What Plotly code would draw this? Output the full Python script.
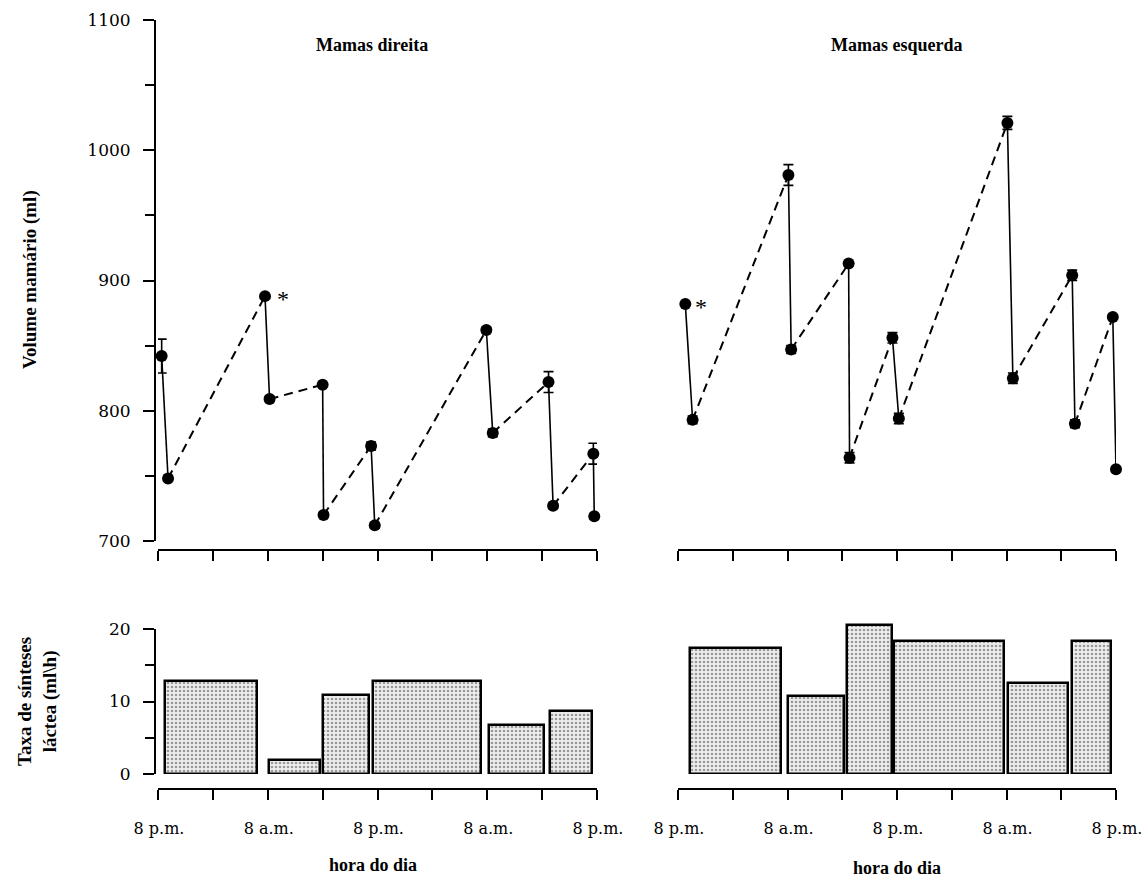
import plotly.graph_objects as go

W, H = 1145, 879

# ---------------- data ----------------
# time in hours from the first 8 p.m.
hours_dir = [0.4, 1.1, 11.7, 12.2, 18.0, 18.1, 23.3, 23.7, 35.9, 36.6, 42.7, 43.2, 47.6, 47.7]
vol_dir = [842, 748, 888, 809, 820, 720, 773, 712, 862, 783, 822, 727, 767, 719]
err_dir = [13, 0, 0, 2, 0, 2, 3, 2, 2, 3, 8, 2, 8, 2]

hours_esq = [0.8, 1.6, 12.1, 12.4, 18.7, 18.8, 23.5, 24.2, 36.1, 36.7, 43.2, 43.5, 47.65, 48.0]
vol_esq = [882, 793, 981, 847, 913, 764, 856, 794, 1021, 825, 904, 790, 872, 755]
err_esq = [0, 3, 8, 3, 0, 4, 4, 4, 5, 4, 4, 3, 2, 0]

bar_start_dir = [0.8, 12.1, 18.0, 23.5, 36.2, 42.9]
bar_end_dir = [10.8, 17.7, 23.1, 35.3, 42.2, 47.4]
rate_dir = [12.8, 2.0, 10.9, 12.8, 6.8, 8.7]

bar_start_esq = [1.3, 12.1, 18.5, 23.7, 36.2, 43.2]
bar_end_esq = [11.3, 18.2, 23.4, 35.7, 42.7, 47.5]
rate_esq = [17.4, 10.8, 20.5, 18.4, 12.6, 18.3]

tick_hours = [0, 6, 12, 18, 24, 30, 36, 42, 48]
label_hours = [0, 12, 24, 36, 48]
label_text = ["8 p.m.", "8 a.m.", "8 p.m.", "8 a.m.", "8 p.m."]
vol_ticks = [700, 800, 900, 1000, 1100]
rate_ticks = [0, 10, 20]

# ---------------- helpers ----------------
def fx(px):
    return px / W

def fy(py):
    return 1 - py / H

fig = go.Figure()

def segments(h, v, start):
    xs, ys = [], []
    for i in range(start, len(h) - 1, 2):
        xs += [h[i], h[i + 1], None]
        ys += [v[i], v[i + 1], None]
    return xs, ys

def add_volume(h, v, e, xa, ya):
    sx, sy = segments(h, v, 0)
    dx, dy = segments(h, v, 1)
    fig.add_trace(go.Scatter(x=sx, y=sy, mode="lines", xaxis=xa, yaxis=ya,
                             line=dict(color="black", width=1.6), showlegend=False,
                             cliponaxis=False))
    fig.add_trace(go.Scatter(x=dx, y=dy, mode="lines", xaxis=xa, yaxis=ya,
                             line=dict(color="black", width=2, dash="9px,6px"),
                             showlegend=False, cliponaxis=False))
    fig.add_trace(go.Scatter(x=h, y=v, mode="markers", xaxis=xa, yaxis=ya,
                             marker=dict(color="black", size=12),
                             error_y=dict(type="data", array=e, visible=True,
                                          color="black", thickness=1.6, width=5),
                             showlegend=False, cliponaxis=False))

def add_bars(s, e, r, xa, ya):
    centers = [(a + b) / 2 for a, b in zip(s, e)]
    widths = [b - a for a, b in zip(s, e)]
    fig.add_trace(go.Bar(x=centers, y=r, width=widths, xaxis=xa, yaxis=ya,
                         marker=dict(color="#ececec",
                                     line=dict(color="black", width=2.5),
                                     pattern=dict(shape=".", fgcolor="#444444",
                                                  bgcolor="#eeeeee", size=4,
                                                  solidity=0.35)),
                         showlegend=False, cliponaxis=False))

add_volume(hours_dir, vol_dir, err_dir, "x", "y")
add_volume(hours_esq, vol_esq, err_esq, "x2", "y2")
add_bars(bar_start_dir, bar_end_dir, rate_dir, "x3", "y3")
add_bars(bar_start_esq, bar_end_esq, rate_esq, "x4", "y4")

tick_font = dict(family="DejaVu Serif", size=17, color="black")
xtick_font = dict(family="DejaVu Serif", size=16, color="black")

def xaxis_cfg(x0, x1, ypos, labels):
    d = dict(domain=[fx(x0), fx(x1)], range=[0, 48], anchor="free", position=fy(ypos),
             showline=True, linecolor="black", linewidth=2, showgrid=False,
             zeroline=False, ticks="outside", ticklen=10, tickwidth=2,
             tickcolor="black", fixedrange=True, automargin=False)
    if labels:
        d.update(tickmode="array", tickvals=tick_hours,
                 ticktext=[label_text[label_hours.index(t)] if t in label_hours else ""
                           for t in tick_hours],
                 showticklabels=True, tickfont=xtick_font, ticklabelstandoff=15,
                 ticklabelshift=1, ticklabeloverflow="allow")
    else:
        d.update(tickmode="array", tickvals=tick_hours, showticklabels=False)
    return d

def yaxis_cfg(ytop, ybot, rng, tvals, minor_dt, visible):
    d = dict(domain=[fy(ybot), fy(ytop)], range=rng, anchor="free", position=fx(155),
             showgrid=False, zeroline=False, fixedrange=True, automargin=False)
    if visible:
        d.update(showline=True, linecolor="black", linewidth=2, ticks="outside",
                 ticklen=11, tickwidth=2, tickcolor="black", tickmode="array",
                 tickvals=tvals, tickfont=tick_font, ticklabelstandoff=9,
                 ticklabeloverflow="allow",
                 minor=dict(dtick=minor_dt, ticks="outside", ticklen=9, tickwidth=2,
                            tickcolor="black", showgrid=False))
    else:
        d.update(visible=False)
    return d

# bottom panels: 20 ml/h spans 774 -> 629 px; hidden right axis is taller so bars are not cut
px_per_rate = (774 - 629) / 20

fig.update_layout(
    width=W, height=H,
    margin=dict(l=0, r=0, t=0, b=0, autoexpand=False),
    paper_bgcolor="white", plot_bgcolor="rgba(0,0,0,0)",
    bargap=0,
    xaxis=xaxis_cfg(158, 597, 550, False),
    xaxis2=xaxis_cfg(678, 1116, 550, False),
    xaxis3=xaxis_cfg(158, 597, 789, True),
    xaxis4=xaxis_cfg(678, 1116, 789, True),
    yaxis=yaxis_cfg(20, 541, [700, 1100], vol_ticks, 50, True),
    yaxis2=yaxis_cfg(20, 541, [700, 1100], vol_ticks, 50, False),
    yaxis3=yaxis_cfg(629, 774, [0, 20], rate_ticks, 5, True),
    yaxis4=yaxis_cfg(774 - 24 * px_per_rate, 774, [0, 24], rate_ticks, 5, False),
)

ann = [
    dict(text="<b>Mamas direita</b>", x=fx(372), y=fy(45), size=18),
    dict(text="<b>Mamas esquerda</b>", x=fx(897), y=fy(45), size=18),
    dict(text="<b>hora do dia</b>", x=fx(373), y=fy(865), size=18),
    dict(text="<b>hora do dia</b>", x=fx(897), y=fy(868), size=18),
    dict(text="<b>Volume mamário (ml)</b>", x=fx(30), y=fy(280), textangle=-90, size=19),
    dict(text="<b>Taxa de sínteses<br>láctea (ml\\h)</b>", x=fx(37), y=fy(702),
         textangle=-90, size=19),
]
for a in ann:
    size = a.pop("size")
    fig.add_annotation(xref="paper", yref="paper", showarrow=False,
                       xanchor="center", yanchor="middle",
                       font=dict(family="Liberation Serif", size=size, color="black"), **a)

# asterisks marking the first measurements
fig.add_annotation(x=hours_dir[2], y=vol_dir[2], xref="x", yref="y", text="*",
                   showarrow=False, xshift=18, yshift=-3,
                   font=dict(family="Liberation Serif", size=24, color="black"))
fig.add_annotation(x=hours_esq[0], y=vol_esq[0], xref="x2", yref="y2", text="*",
                   showarrow=False, xshift=16, yshift=-3,
                   font=dict(family="Liberation Serif", size=24, color="black"))

fig.write_html("out.html")
